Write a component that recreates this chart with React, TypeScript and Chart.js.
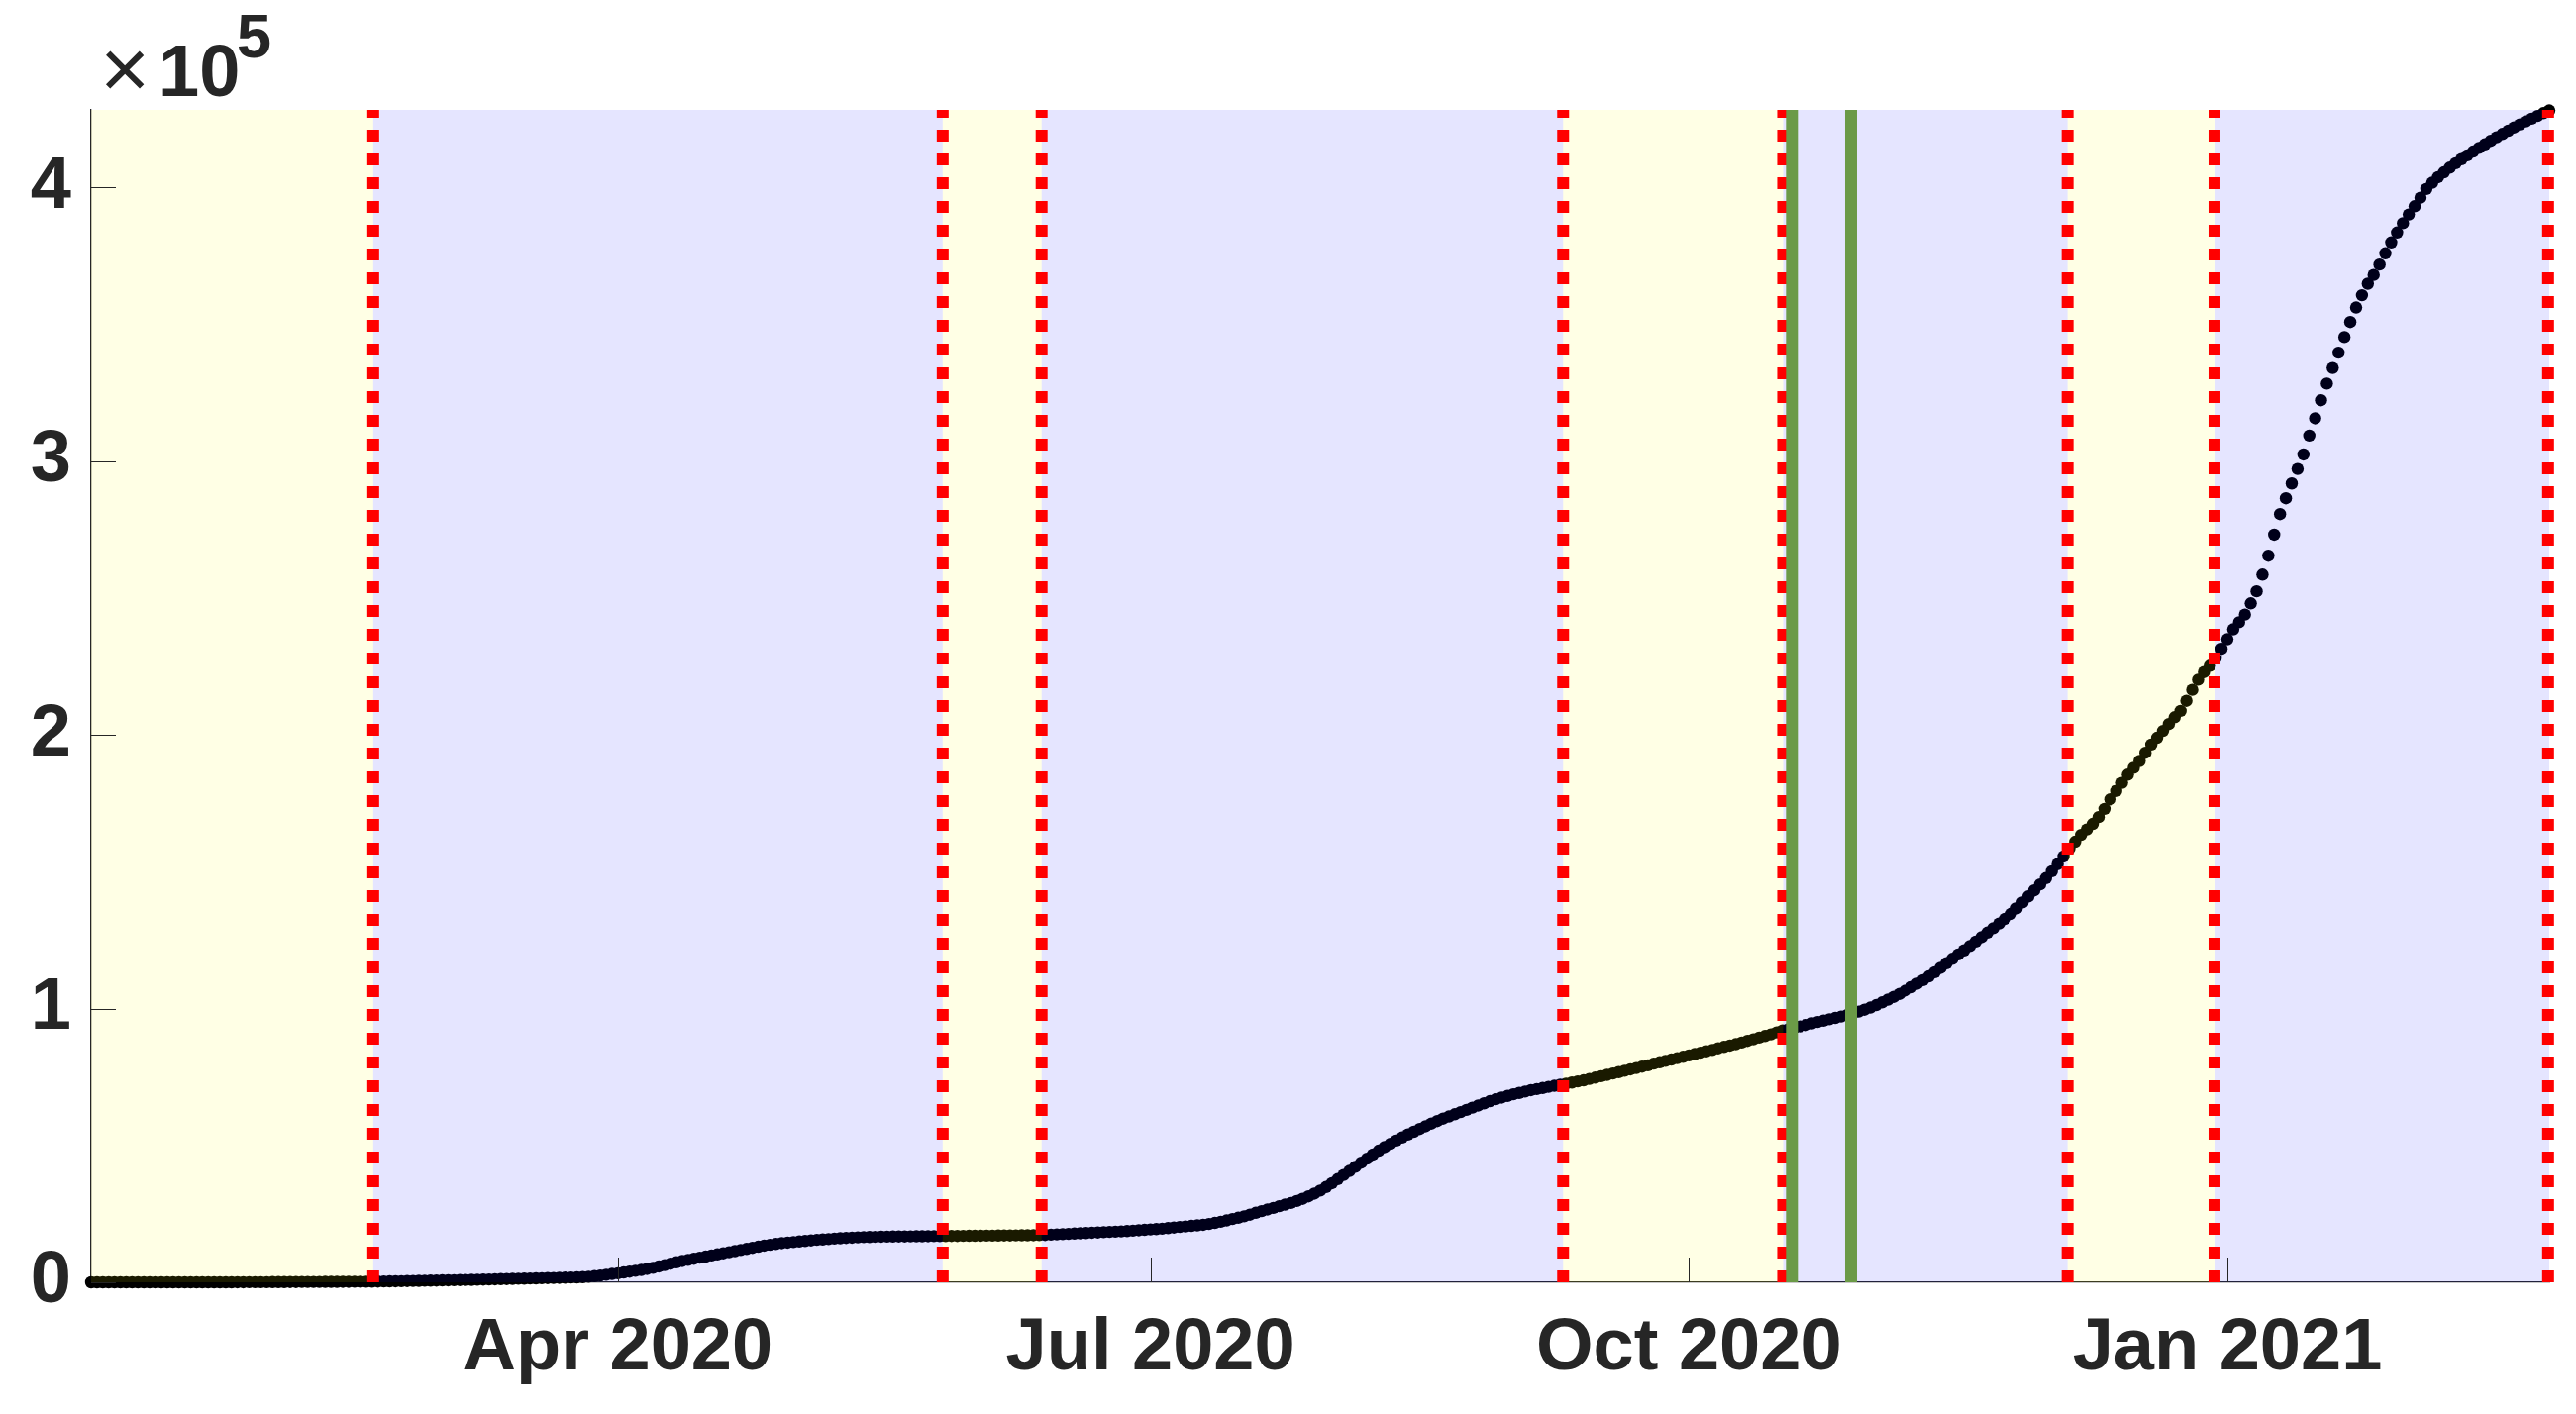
import { useEffect, useRef } from 'react';
import { Chart, registerables } from 'chart.js';

Chart.register(...registerables);

// Day numbers count from 1 Jan 2020 = day 0; the series starts on day 1 (2 Jan 2020)
const FIRST_DAY = 1;
const X_MIN = 1;
const X_MAX = 421;

// Cumulative values, one per day
const cumulative = [
  0, 0, 0, 0, 0, 0, 0, 0, 0, 0,
  0, 0, 0, 0, 0, 0, 0, 0, 0, 0,
  0, 0, 0, 0, 0, 10, 20, 30, 40, 50,
  60, 70, 80, 90, 100, 110, 120, 130, 140, 150,
  160, 170, 180, 190, 200, 210, 220, 230, 250, 280,
  310, 340, 380, 420, 460, 500, 540, 580, 620, 660,
  700, 740, 780, 820, 860, 900, 950, 1000, 1050, 1100,
  1150, 1200, 1250, 1300, 1350, 1400, 1450, 1500, 1550, 1600,
  1650, 1700, 1750, 1800, 1900, 2050, 2250, 2500, 2750, 3050,
  3300, 3600, 3900, 4200, 4500, 4900, 5300, 5800, 6300, 6800,
  7300, 7800, 8200, 8600, 9000, 9400, 9800, 10200, 10600, 11000,
  11400, 11800, 12200, 12600, 13000, 13400, 13700, 14000, 14300, 14500,
  14700, 14900, 15100, 15300, 15500, 15650, 15800, 15950, 16100, 16200,
  16300, 16400, 16500, 16550, 16600, 16650, 16700, 16720, 16740, 16760,
  16780, 16800, 16820, 16840, 16860, 16880, 16900, 16920, 16940, 16960,
  16980, 17000, 17020, 17040, 17060, 17080, 17100, 17120, 17140, 17160,
  17180, 17200, 17250, 17300, 17400, 17500, 17600, 17700, 17800, 17900,
  18000, 18100, 18200, 18300, 18400, 18500, 18600, 18700, 18850, 19000,
  19150, 19300, 19450, 19600, 19800, 20000, 20200, 20400, 20600, 20800,
  21000, 21300, 21700, 22100, 22600, 23100, 23600, 24100, 24700, 25400,
  26000, 26600, 27200, 27800, 28400, 29000, 29700, 30500, 31400, 32400,
  33500, 34800, 36200, 37700, 39200, 40700, 42200, 43700, 45200, 46700,
  48100, 49400, 50600, 51800, 52900, 54000, 55000, 56000, 57000, 58000,
  58900, 59800, 60600, 61400, 62200, 63000, 63800, 64600, 65400, 66200,
  66900, 67500, 68100, 68700, 69200, 69700, 70200, 70600, 71000, 71400,
  71800, 72200, 72600, 73000, 73400, 73800, 74300, 74800, 75300, 75800,
  76300, 76800, 77300, 77800, 78300, 78800, 79300, 79900, 80400, 80900,
  81400, 81900, 82400, 82900, 83400, 83900, 84400, 84900, 85500, 86000,
  86500, 87000, 87600, 88200, 88800, 89400, 90000, 90600, 91300, 92000,
  92500, 93000, 93500, 94000, 94600, 95100, 95600, 96100, 96600, 97100,
  97600, 98200, 98900, 99600, 100400, 101300, 102300, 103300, 104300, 105400,
  106600, 107800, 109100, 110400, 111800, 113300, 114900, 116600, 118200, 119800,
  121300, 122900, 124500, 126100, 127800, 129400, 131100, 132800, 134600, 136600,
  138800, 141000, 143200, 145400, 147700, 150200, 152800, 155600, 158500, 161000,
  163500, 165500, 167500, 170000, 173000, 176500, 179500, 182500, 185500, 188000,
  190500, 193500, 196500, 199000, 201500, 204000, 206500, 208800, 212500, 216500,
  220200, 223000, 225300, 228000, 231500, 235000, 238600, 241200, 244000, 248100,
  252500, 258600, 265500, 273200, 280700, 286500, 291900, 297200, 302500, 309400,
  315700, 322300, 328400, 334100, 339700, 345400, 350900, 356200, 360700, 364900,
  368100, 371900, 376000, 380000, 383600, 387000, 390200, 393200, 396300, 399500,
  401800, 403800, 405600, 407300, 408900, 410400, 411800, 413200, 414500, 415800,
  417100, 418400, 419600, 420800, 422000, 423100, 424200, 425200, 426200, 427200,
  428200,
];

// X axis ticks (day numbers) and their labels
const tickDays = [91, 182, 274, 366];
const tickLabels = ['Apr 2020', 'Jul 2020', 'Oct 2020', 'Jan 2021'];

// Y axis ticks in units of 10^5
const yTicks = [0, 1, 2, 3, 4];
const Y_UNIT = 100000;
const Y_MAX = 428400;

// Shaded phases (day ranges) and their kind
const phaseStart = [1, 49.2, 146.5, 163.4, 252.5, 290.1, 338.7, 363.8];
const phaseEnd = [49.2, 146.5, 163.4, 252.5, 290.1, 338.7, 363.8, 421];
const phaseKind = ['yellow', 'blue', 'yellow', 'blue', 'yellow', 'blue', 'yellow', 'blue'];

// Vertical marker lines (day numbers)
const redLineDays = [49.2, 146.5, 163.4, 252.5, 290.1, 338.7, 363.8, 420.8];
const greenLineDays = [291.6, 301.7];

const FONT = "'Liberation Sans', Arial, Helvetica, sans-serif";
const TEXT = '#262626';

const whiteBg = {
  id: 'whiteBg',
  beforeDraw(chart: any) {
    const { ctx, width, height } = chart;
    ctx.save();
    ctx.fillStyle = '#ffffff';
    ctx.fillRect(0, 0, width, height);
    ctx.restore();
  },
};

const phaseBands = {
  id: 'phaseBands',
  afterDatasetDraw(chart: any, args: any) {
    if (args.index !== 0) return;
    const { ctx, chartArea } = chart;
    const xs = chart.scales.x;
    ctx.save();
    phaseStart.forEach((s, i) => {
      const x0 = xs.getPixelForValue(s);
      const x1 = xs.getPixelForValue(phaseEnd[i]);
      ctx.fillStyle = phaseKind[i] === 'yellow' ? 'rgba(255,255,0,0.1)' : 'rgba(0,0,255,0.1)';
      ctx.fillRect(x0, chartArea.top, x1 - x0, chartArea.bottom - chartArea.top);
    });
    ctx.restore();
  },
};

const axisExtras = {
  id: 'axisExtras',
  afterDraw(chart: any) {
    const { ctx, chartArea } = chart;
    const xs = chart.scales.x;
    const ys = chart.scales.y;
    ctx.save();
    ctx.strokeStyle = TEXT;
    ctx.lineWidth = 1;
    const TL = 25;
    xs.ticks.forEach((t: any) => {
      const px = Math.round(xs.getPixelForValue(t.value)) + 0.5;
      ctx.beginPath();
      ctx.moveTo(px, chartArea.bottom);
      ctx.lineTo(px, chartArea.bottom - TL);
      ctx.stroke();
    });
    ys.ticks.forEach((t: any) => {
      const py = Math.round(ys.getPixelForValue(t.value)) + 0.5;
      ctx.beginPath();
      ctx.moveTo(chartArea.left, py);
      ctx.lineTo(chartArea.left + TL, py);
      ctx.stroke();
    });
    // exponent label
    ctx.fillStyle = TEXT;
    ctx.textBaseline = 'alphabetic';
    ctx.textAlign = 'left';
    const base = chartArea.top - 14;
    ctx.font = `normal 86px ${FONT}`;
    ctx.fillText('\u00D7', chartArea.left + 9, base + 2);
    ctx.font = `bold 74px ${FONT}`;
    ctx.fillText('10', chartArea.left + 68, base);
    ctx.font = `bold 63px ${FONT}`;
    ctx.fillText('5', chartArea.left + 147, chartArea.top - 53);
    ctx.restore();
  },
};

export default function App() {
  const ref = useRef<HTMLCanvasElement>(null);
  useEffect(() => {
    const points = cumulative.map((v, i) => ({ x: FIRST_DAY + i, y: v }));
    const vLine = (d: number) => [
      { x: d, y: 0 },
      { x: d, y: Y_MAX },
    ];
    const datasets: any[] = [
      {
        label: 'cumulative',
        data: points,
        showLine: false,
        pointRadius: 6.2,
        pointBackgroundColor: '#000000',
        pointBorderWidth: 0,
        pointHoverRadius: 6.2,
        order: 3,
        clip: false,
      },
      ...redLineDays.map((d) => ({
        label: 'phase change',
        data: vLine(d),
        borderColor: '#ff0000',
        borderWidth: 12,
        borderDash: [12, 12],
        borderCapStyle: 'butt',
        pointRadius: 0,
        order: 1,
        clip: false,
      })),
      ...greenLineDays.map((d) => ({
        label: 'event',
        data: vLine(d),
        borderColor: '#6b9a47',
        borderWidth: 12,
        borderCapStyle: 'butt',
        pointRadius: 0,
        order: 0,
        clip: false,
      })),
    ];
    const chart = new Chart(ref.current as HTMLCanvasElement, {
      type: 'line',
      data: { datasets },
      options: {
        animation: false,
        responsive: false,
        devicePixelRatio: 1,
        events: [],
        layout: { padding: { top: 111, right: 27, left: 0, bottom: 0 } },
        plugins: {
          legend: { display: false },
          tooltip: { enabled: false },
        },
        scales: {
          x: {
            type: 'linear',
            min: X_MIN,
            max: X_MAX,
            afterBuildTicks: (scale: any) => {
              scale.ticks = tickDays.map((v) => ({ value: v }));
            },
            afterFit: (scale: any) => {
              scale.height = 133;
            },
            grid: { display: false, drawTicks: false },
            border: { display: true, color: TEXT, width: 1.3 },
            ticks: {
              autoSkip: false,
              maxRotation: 0,
              padding: 23,
              color: TEXT,
              font: { family: FONT, size: 74, weight: 'bold' },
              callback: (_v: any, i: number) => tickLabels[i],
            },
          },
          y: {
            type: 'linear',
            min: 0,
            max: Y_MAX,
            afterBuildTicks: (scale: any) => {
              scale.ticks = yTicks.map((v) => ({ value: v * Y_UNIT }));
            },
            afterFit: (scale: any) => {
              scale.width = 92;
            },
            grid: { display: false, drawTicks: false },
            border: { display: true, color: TEXT, width: 1.3 },
            ticks: {
              padding: 20,
              color: TEXT,
              font: { family: FONT, size: 74, weight: 'bold' },
              callback: (_v: any, i: number) => String(yTicks[i]),
            },
          },
        },
      } as any,
      plugins: [whiteBg, phaseBands, axisExtras],
    });
    return () => chart.destroy();
  }, []);
  return (
    <div style={{ position: 'fixed', left: 0, top: 0, width: 2601, height: 1428, background: '#ffffff' }}>
      <canvas ref={ref} width={2601} height={1428} style={{ display: 'block', width: 2601, height: 1428 }} />
    </div>
  );
}
